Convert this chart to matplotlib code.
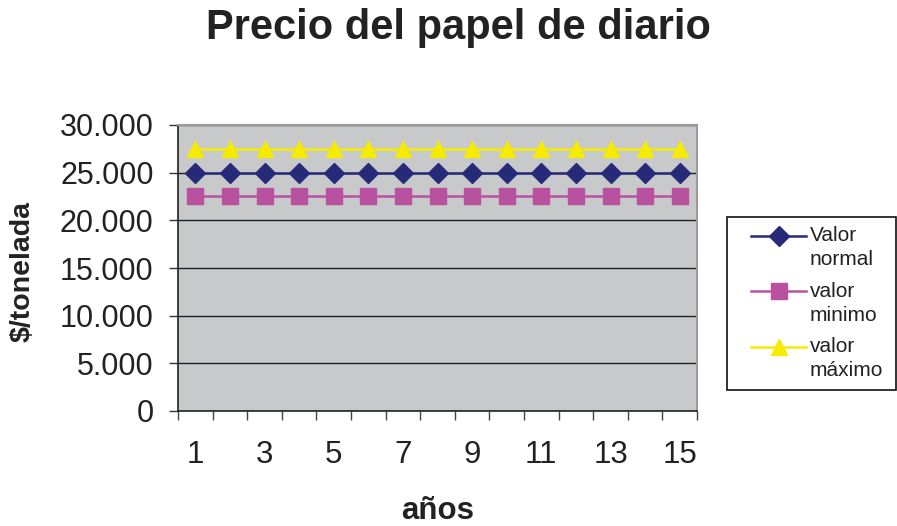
import matplotlib
matplotlib.use("Agg")
import matplotlib.pyplot as plt
import numpy as np
from matplotlib.patches import Rectangle
from matplotlib.ticker import FuncFormatter

plt.rcParams['font.family'] = ['Liberation Sans', 'DejaVu Sans']

years = list(range(1, 16))
valor_normal = [25000] * 15
valor_minimo = [22500] * 15
valor_maximo = [27500] * 15
y_ticks = [0, 5000, 10000, 15000, 20000, 25000, 30000]
x_labels = [1, 3, 5, 7, 9, 11, 13, 15]

W, H = 897, 526
fig = plt.figure(figsize=(W / 100, H / 100), dpi=100)
ax = fig.add_axes([178 / W, 115 / H, 519 / W, 286 / H])
ax.set_facecolor('#C8C9CB')

ax.plot(years, valor_normal, color='#262A78', lw=1.8, marker='D', ms=10.5,
        label='Valor\nnormal', zorder=3)
ax.plot(years, valor_minimo, color='#B8519E', lw=1.8, marker='s', ms=11.5,
        label='valor\nminimo', zorder=3)
ax.plot(years, valor_maximo, color='#F5EC00', lw=1.8, marker='^', ms=11.5,
        label='valor\nmáximo', zorder=3)

ax.set_xlim(0.5, 15.5)
ax.set_ylim(0, 30000)

# category boundaries as tick marks, labels on odd categories
ax.set_xticks([i + 0.5 for i in range(0, 16)])
ax.set_xticklabels([])
ax.set_xticks(x_labels, minor=True)
ax.set_xticklabels([str(v) for v in x_labels], minor=True, fontsize=22.5,
                   color='#222222')
ax.tick_params(axis='x', which='major', direction='out', length=6.5, width=1,
               color='#444444')
ax.tick_params(axis='x', which='minor', length=0, pad=21)

ax.set_yticks(y_ticks)
ax.yaxis.set_major_formatter(FuncFormatter(
    lambda v, p: f"{int(v):,}".replace(',', '.')))
ax.tick_params(axis='y', direction='out', length=6.5, width=1, color='#333333',
               labelsize=22, labelcolor='#222222', pad=11)

ax.grid(axis='y', color='#222222', lw=1)
ax.set_axisbelow(True)

for s in ('left', 'bottom'):
    ax.spines[s].set_color('#222222')
    ax.spines[s].set_linewidth(1.2)
for s in ('top', 'right'):
    ax.spines[s].set_color('#9A9A9A')
    ax.spines[s].set_linewidth(1.5)

fig.text(458 / W, 1 - 28 / H, 'Precio del papel de diario', ha='center',
         va='center', fontsize=30, fontweight='bold', color='#222222')
fig.text(23 / W, 1 - 272 / H, '$/tonelada', ha='center', va='center',
         rotation=90, fontsize=20.5, fontweight='bold', color='#222222')
fig.text(438 / W, 1 - 511 / H, 'años', ha='center', va='center',
         fontsize=22.5, fontweight='bold', color='#222222')

# legend frame
fig.add_artist(Rectangle((727 / W, 1 - 390 / H), 169 / W, 173 / H,
                         transform=fig.transFigure, facecolor='white',
                         edgecolor='#111111', lw=1.2, zorder=1))

leg = fig.legend(loc='upper left', bbox_to_anchor=(751 / W, 1 - 226 / H),
                 frameon=False, fontsize=15, handlelength=2.64,
                 handletextpad=0.19, labelspacing=0.62, borderpad=0,
                 borderaxespad=0)
leg.set_zorder(2)
for t in leg.get_texts():
    t.set_color('#222222')
    t.set_linespacing(1.32)
# align each key with the first line of its label
for h in leg.legend_handles:
    h.set_ydata(np.asarray(h.get_ydata(), dtype=float) + 8.7)

fig.savefig('out.png', dpi=100)
